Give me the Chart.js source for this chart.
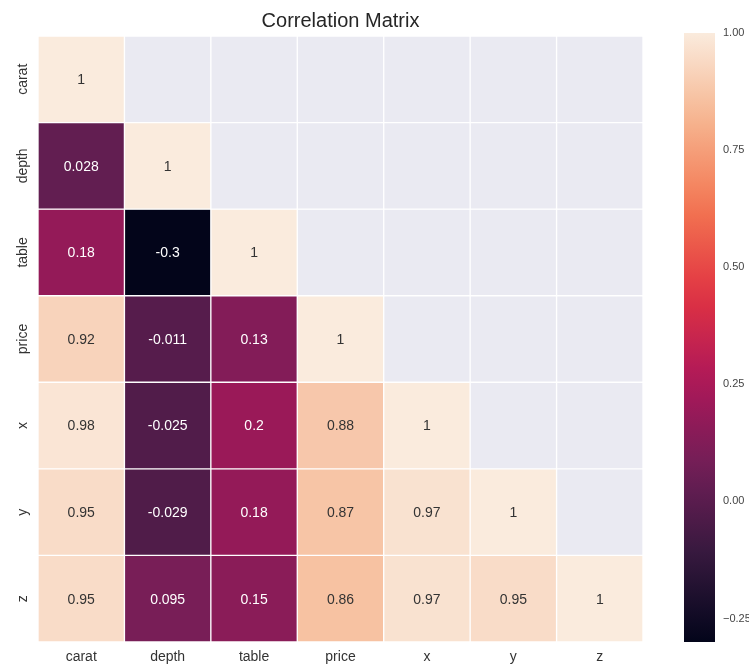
<!DOCTYPE html>
<html>
<head>
<meta charset="utf-8">
<script src="https://cdn.jsdelivr.net/npm/chart.js@4.4.0/dist/chart.umd.min.js"></script>
<style>
  html, body { margin: 0; padding: 0; background: #ffffff; }
  #wrap { position: relative; width: 749px; height: 666px; overflow: hidden; }
  #heat { position: absolute; left: 0; top: 0; }
  #cbar { position: absolute; left: 670px; top: 0; }
</style>
</head>
<body>
<div id="wrap">
  <canvas id="heat" width="670" height="666"></canvas>
  <canvas id="cbar" width="79" height="666"></canvas>
</div>
<script>
// Variables in the correlation matrix (rows and columns)
var variables = ['carat', 'depth', 'table', 'price', 'x', 'y', 'z'];

// Lower triangle of the matrix, one array per row
var caratRow = [1];
var depthRow = [0.028, 1];
var tableRow = [0.18, -0.3, 1];
var priceRow = [0.92, -0.011, 0.13, 1];
var xRow = [0.98, -0.025, 0.2, 0.88, 1];
var yRow = [0.95, -0.029, 0.18, 0.87, 0.97, 1];
var zRow = [0.95, 0.095, 0.15, 0.86, 0.97, 0.95, 1];

// Colour bar range and ticks
var vmin = -0.3;
var vmax = 1.0;
var colorbarTicks = [-0.25, 0, 0.25, 0.5, 0.75, 1.0];

var matrixRows = [caratRow, depthRow, tableRow, priceRow, xRow, yRow, zRow];

// seaborn "rocket" colormap, sampled
var rocketStops = [
  [0.000, [3, 5, 26]],
  [0.143, [53, 25, 62]],
  [0.286, [112, 31, 87]],
  [0.429, [173, 23, 89]],
  [0.571, [225, 51, 66]],
  [0.714, [243, 118, 81]],
  [0.857, [246, 180, 143]],
  [1.000, [250, 235, 221]]
];

function rocket(t) {
  t = Math.max(0, Math.min(1, t));
  for (var i = 1; i < rocketStops.length; i++) {
    if (t <= rocketStops[i][0]) {
      var a = rocketStops[i - 1], b = rocketStops[i];
      var f = (t - a[0]) / (b[0] - a[0]);
      return a[1].map(function (v, k) { return Math.round(v + (b[1][k] - v) * f); });
    }
  }
  return rocketStops[rocketStops.length - 1][1];
}

function cellRgb(v) {
  return rocket((v - vmin) / (vmax - vmin));
}

function rgbStr(c) { return 'rgb(' + c[0] + ',' + c[1] + ',' + c[2] + ')'; }

var fontFamily = "'Liberation Sans', Arial, sans-serif";
var textColor = '#262626';
var maskColor = '#eaeaf2';

document.addEventListener('DOMContentLoaded', function () {
  // one stacked dataset per matrix row
  var datasets = matrixRows.map(function (row, i) {
    return {
      label: variables[i],
      data: variables.map(function () { return 1; }),
      backgroundColor: variables.map(function (_, j) {
        return j < row.length ? rgbStr(cellRgb(row[j])) : maskColor;
      }),
      borderColor: '#ffffff',
      borderWidth: 1,
      borderSkipped: false,
      categoryPercentage: 1.0,
      barPercentage: 1.0
    };
  });

  // cell annotations
  var annotate = {
    id: 'annotate',
    afterDatasetsDraw: function (chart) {
      var ctx = chart.ctx;
      ctx.save();
      ctx.font = '14px ' + fontFamily;
      ctx.textAlign = 'center';
      ctx.textBaseline = 'middle';
      matrixRows.forEach(function (row, i) {
        var meta = chart.getDatasetMeta(i);
        row.forEach(function (v, j) {
          var el = meta.data[j];
          var c = cellRgb(v);
          var lum = 0.2126 * Math.pow(c[0] / 255, 2.2) + 0.7152 * Math.pow(c[1] / 255, 2.2) + 0.0722 * Math.pow(c[2] / 255, 2.2);
          ctx.fillStyle = lum > 0.408 ? '#333333' : '#ffffff';
          ctx.fillText(String(v), el.x, (el.y + el.base) / 2 + 1);
        });
      });
      ctx.restore();
    }
  };

  new Chart(document.getElementById('heat').getContext('2d'), {
    type: 'bar',
    data: { labels: variables, datasets: datasets },
    plugins: [annotate],
    options: {
      responsive: false,
      animation: false,
      layout: { padding: { left: 0, right: 27, top: 0, bottom: 0 } },
      plugins: {
        legend: { display: false },
        tooltip: { enabled: false },
        title: {
          display: true,
          text: 'Correlation Matrix',
          fullSize: false,
          color: textColor,
          font: { family: fontFamily, size: 20, weight: 'normal' },
          padding: { top: 9, bottom: 3 }
        }
      },
      scales: {
        x: {
          stacked: true,
          grid: { display: false, drawTicks: false },
          border: { display: false },
          ticks: { color: '#333333', font: { family: fontFamily, size: 14 }, padding: 7, maxRotation: 0 },
          afterFit: function (scale) { scale.height = 24; }
        },
        y: {
          type: 'linear',
          stacked: true,
          reverse: true,
          min: 0,
          max: variables.length,
          grid: { display: false, drawTicks: false },
          border: { display: false },
          afterBuildTicks: function (scale) {
            scale.ticks = variables.map(function (_, i) { return { value: i + 0.5 }; });
          },
          ticks: {
            color: '#333333',
            font: { family: fontFamily, size: 14 },
            minRotation: 90,
            maxRotation: 90,
            crossAlign: 'center',
            padding: -3,
            callback: function (value, index) { return variables[index]; }
          },
          afterFit: function (scale) { scale.width = 38; }
        }
      }
    }
  });

  // colour bar
  new Chart(document.getElementById('cbar').getContext('2d'), {
    type: 'bar',
    data: {
      labels: ['corr'],
      datasets: [{
        data: [[vmin, vmax]],
        categoryPercentage: 1.0,
        barPercentage: 1.0,
        borderWidth: 0,
        backgroundColor: function (context) {
          var chart = context.chart;
          if (!chart.chartArea) return null;
          var ys = chart.scales.y;
          var g = chart.ctx.createLinearGradient(0, ys.getPixelForValue(vmin), 0, ys.getPixelForValue(vmax));
          for (var k = 0; k <= 20; k++) {
            g.addColorStop(k / 20, rgbStr(rocket(k / 20)));
          }
          return g;
        }
      }]
    },
    options: {
      responsive: false,
      animation: false,
      layout: { padding: { left: 14, right: 0, top: 33, bottom: 24 } },
      plugins: { legend: { display: false }, tooltip: { enabled: false } },
      scales: {
        x: { display: false },
        y: {
          position: 'right',
          min: vmin,
          max: vmax,
          grid: { display: false, drawTicks: false },
          border: { display: false },
          afterBuildTicks: function (scale) {
            scale.ticks = colorbarTicks.map(function (v) { return { value: v }; });
          },
          ticks: {
            color: '#444444',
            font: { family: fontFamily, size: 11 },
            padding: 8,
            callback: function (value) {
              var s = Math.abs(value).toFixed(2);
              return value < 0 ? '\u2212' + s : s;
            }
          },
          afterFit: function (scale) { scale.width = 34; }
        }
      }
    }
  });
});
</script>
</body>
</html>
